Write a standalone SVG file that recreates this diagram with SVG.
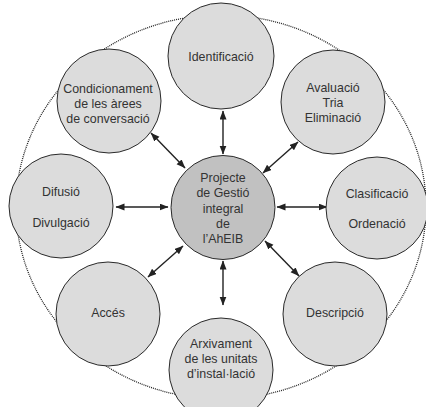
<svg xmlns="http://www.w3.org/2000/svg" width="426" height="407" viewBox="0 0 426 407">
<style>
.n{fill:#dcdcdc;stroke:#2a2a2a;stroke-width:1}
.c{fill:#c1c1c1;stroke:#2a2a2a;stroke-width:1}
text{font-family:"Liberation Sans",Arial,sans-serif;font-size:12.4px;fill:#333;text-anchor:middle}
.a{stroke:#222;stroke-width:1.4;fill:none;marker-start:url(#ah);marker-end:url(#ah)}
</style>
<defs>
<marker id="ah" markerUnits="userSpaceOnUse" markerWidth="10" markerHeight="8" refX="8.5" refY="3.5" orient="auto-start-reverse">
<path d="M0,0 L9,3.5 L0,7 z" fill="#222"/>
</marker>
</defs>
<rect width="426" height="407" fill="#fff"/>
<ellipse cx="221" cy="207" rx="205" ry="192" fill="none" stroke="#222" stroke-width="1.3" stroke-dasharray="1 1"/>
<g id="connectors">
<line class="a" x1="223" y1="111" x2="223" y2="154"/>
<line class="a" x1="223" y1="261" x2="223" y2="305"/>
<line class="a" x1="116" y1="207" x2="168" y2="207"/>
<line class="a" x1="277" y1="207" x2="327" y2="207"/>
<line class="a" x1="151" y1="133" x2="185" y2="168"/>
<line class="a" x1="298" y1="142" x2="263" y2="173"/>
<line class="a" x1="183" y1="246" x2="148" y2="277"/>
<line class="a" x1="265" y1="241" x2="299" y2="276"/>
</g>
<g id="center">
<circle class="c" cx="223" cy="207.5" r="52"/>
<text x="223" y="181.5">Projecte</text>
<text x="223" y="197">de Gestió</text>
<text x="223" y="212.5">integral</text>
<text x="223" y="227.5">de</text>
<text x="223" y="242.5">l’AhEIB</text>
</g>
<g id="identificacio">
<circle class="n" cx="221" cy="56" r="53"/>
<text x="221" y="61">Identificació</text>
</g>
<g id="avaluacio">
<circle class="n" cx="333" cy="102" r="52"/>
<text x="333" y="92">Avaluació</text>
<text x="333" y="107">Tria</text>
<text x="333" y="121.5">Eliminació</text>
</g>
<g id="clasificacio">
<circle class="n" cx="377" cy="208" r="51"/>
<text x="377" y="197.5">Clasificació</text>
<text x="377" y="227.5">Ordenació</text>
</g>
<g id="descripcio">
<circle class="n" cx="335" cy="314" r="52"/>
<text x="335" y="316.5">Descripció</text>
</g>
<g id="arxivament">
<circle class="n" cx="221" cy="370" r="52"/>
<text x="221" y="347.5">Arxivament</text>
<text x="221" y="362.5">de les unitats</text>
<text x="221" y="378">d’instal·lació</text>
</g>
<g id="acces">
<circle class="n" cx="108" cy="314" r="52"/>
<text x="108" y="316.5">Accés</text>
</g>
<g id="difusio">
<circle class="n" cx="61" cy="206" r="52"/>
<text x="61" y="195.5">Difusió</text>
<text x="61" y="226.5">Divulgació</text>
</g>
<g id="condicionament">
<circle class="n" cx="109" cy="101" r="52"/>
<text x="108" y="92.5">Condicionament</text>
<text x="108" y="107.5">de les àrees</text>
<text x="108" y="122.5">de conversació</text>
</g>
</svg>
